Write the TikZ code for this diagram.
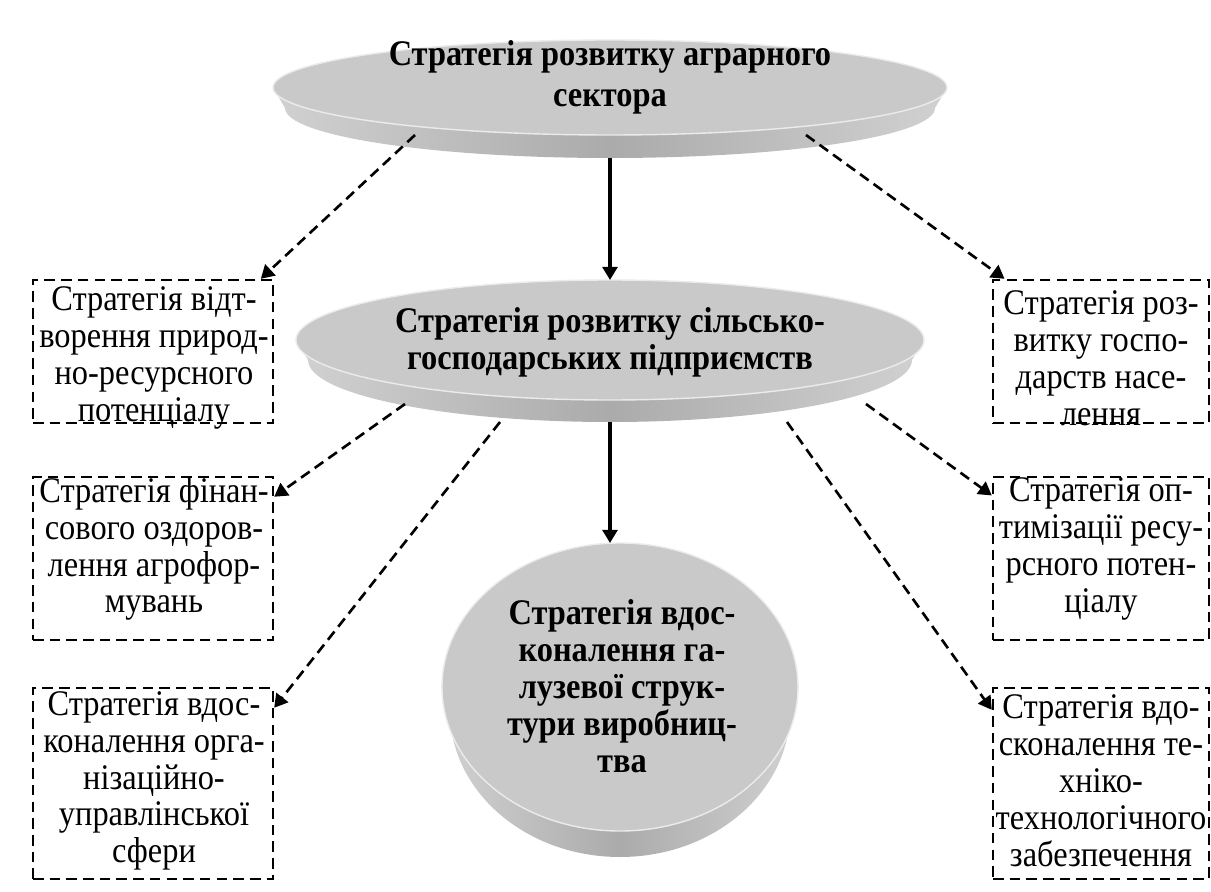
\documentclass[tikz,border=0pt]{standalone}
\usepackage{fontspec}
\setmainfont[FakeStretch=0.9]{Liberation Serif}
\usetikzlibrary{arrows.meta}

\tikzset{
  disktext/.style={align=center,inner sep=0pt,font=\bfseries\fontsize{20.5}{21}\selectfont},
  stratbox/.style={draw,dashed,dash pattern=on 6pt off 3.5pt,line width=1.4pt,
    minimum width=#1,inner sep=0pt},
  strattext/.style={align=center,inner sep=0pt,font=\fontsize{20.5}{21}\selectfont},
  solidarrow/.style={line width=1.8pt,-{Triangle[length=7.5pt,width=8.5pt]}},
  dasharrow/.style={line width=1.5pt,dash pattern=on 6pt off 3.5pt,
    -{Triangle[length=7.5pt,width=8.5pt]}},
  diskside/.style={left color=black!18,right color=black!18,middle color=black!33},
  diskface/.style={fill=black!21,draw=black!8,line width=0.8pt}
}

\begin{document}
\begin{tikzpicture}[x=0.02cm,y=-0.02cm]
   \useasboundingbox (0,0) rectangle (1211,892);

   %% Scheiben
   \shade[diskside] (273,87.5) -- (285,108)
      arc[start angle=180,end angle=0,x radius=325,y radius=50] -- (947,87.5) -- cycle;
   \draw[diskface] (610,87.5) ellipse [x radius=337,y radius=47.5];

   \shade[diskside] (296,340) -- (308,360)
      arc[start angle=180,end angle=0,x radius=302,y radius=62] -- (924,340) -- cycle;
   \draw[diskface] (610,340) ellipse [x radius=314,y radius=60];

   \shade[diskside] (442,687) -- (450,711)
      arc[start angle=180,end angle=0,x radius=170,y radius=146] -- (798,687) -- cycle;
   \draw[diskface] (620,687) ellipse [x radius=178,y radius=144];

   %% Punkte an den Scheiben
   \coordinate (agrB) at (610,158);
   \coordinate (agrL) at (415,135);
   \coordinate (agrR) at (806,135);
   \coordinate (pidT) at (610,280);
   \coordinate (pidB) at (610,422);
   \coordinate (pidL) at (405,404);
   \coordinate (pidR) at (866,404);
   \coordinate (pidLL) at (500,422);
   \coordinate (pidRR) at (787,422);
   \coordinate (galT) at (610,543);

   %% Texte
   \node[disktext,font=\bfseries\fontsize{20.5}{23.5}\selectfont] (agr) at (610,77)
      {Стратегія розвитку аграрного\\сектора};
   \node[disktext] (pid) at (610,342)
      {Стратегія розвитку сільсько-\\господарських підприємств};
   \node[disktext] (gal) at (622,686)
      {Стратегія вдос-\\коналення га-\\лузевої струк-\\тури виробниц-\\тва};

   %% Kästen
   \node[stratbox=4.8cm,minimum height=2.86cm] (l1) at (153,351.5) {};
   \node[stratbox=4.8cm,minimum height=3.26cm] (l2) at (153,558.5) {};
   \node[stratbox=4.8cm,minimum height=3.82cm] (l3) at (153,783.5) {};
   \node[stratbox=4.32cm,minimum height=2.86cm] (r1) at (1101,351.5) {};
   \node[stratbox=4.32cm,minimum height=3.26cm] (r2) at (1101,558.5) {};
   \node[stratbox=4.32cm,minimum height=3.82cm] (r3) at (1101,783.5) {};

   \node[strattext] (l1t) at (154,358)
      {Стратегія відт-\\ворення природ-\\но-ресурсного\\потенціалу};
   \node[strattext] (l2t) at (154,549)
      {Стратегія фінан-\\сового оздоров-\\лення агрофор-\\мувань};
   \node[strattext] (l3t) at (154,781)
      {Стратегія вдос-\\коналення орга-\\нізаційно-\\управлінської\\сфери};
   \node[strattext] (r1t) at (1101,358)
      {Стратегія роз-\\витку госпо-\\дарств насе-\\лення};
   \node[strattext] (r2t) at (1101,549)
      {Стратегія оп-\\тимізації ресу-\\рсного потен-\\ціалу};
   \node[strattext] (r3t) at (1101,781)
      {Стратегія вдо-\\сконалення те-\\хніко-\\технологічного\\забезпечення};

   %% Pfeile
   \draw[solidarrow] (agrB) -- (pidT);
   \draw[solidarrow] (pidB) -- (galT);
   \draw[dasharrow] (agrL) -- (l1.34);
   \draw[dasharrow] (agrR) -- (r1.143);
   \draw[dasharrow] (pidL) -- (l2.27);
   \draw[dasharrow] (pidR) -- (r2.150);
   \draw[dasharrow] (pidLL) -- (l3.32);
   \draw[dasharrow] (pidRR) -- (r3.146);
\end{tikzpicture}
\end{document}
